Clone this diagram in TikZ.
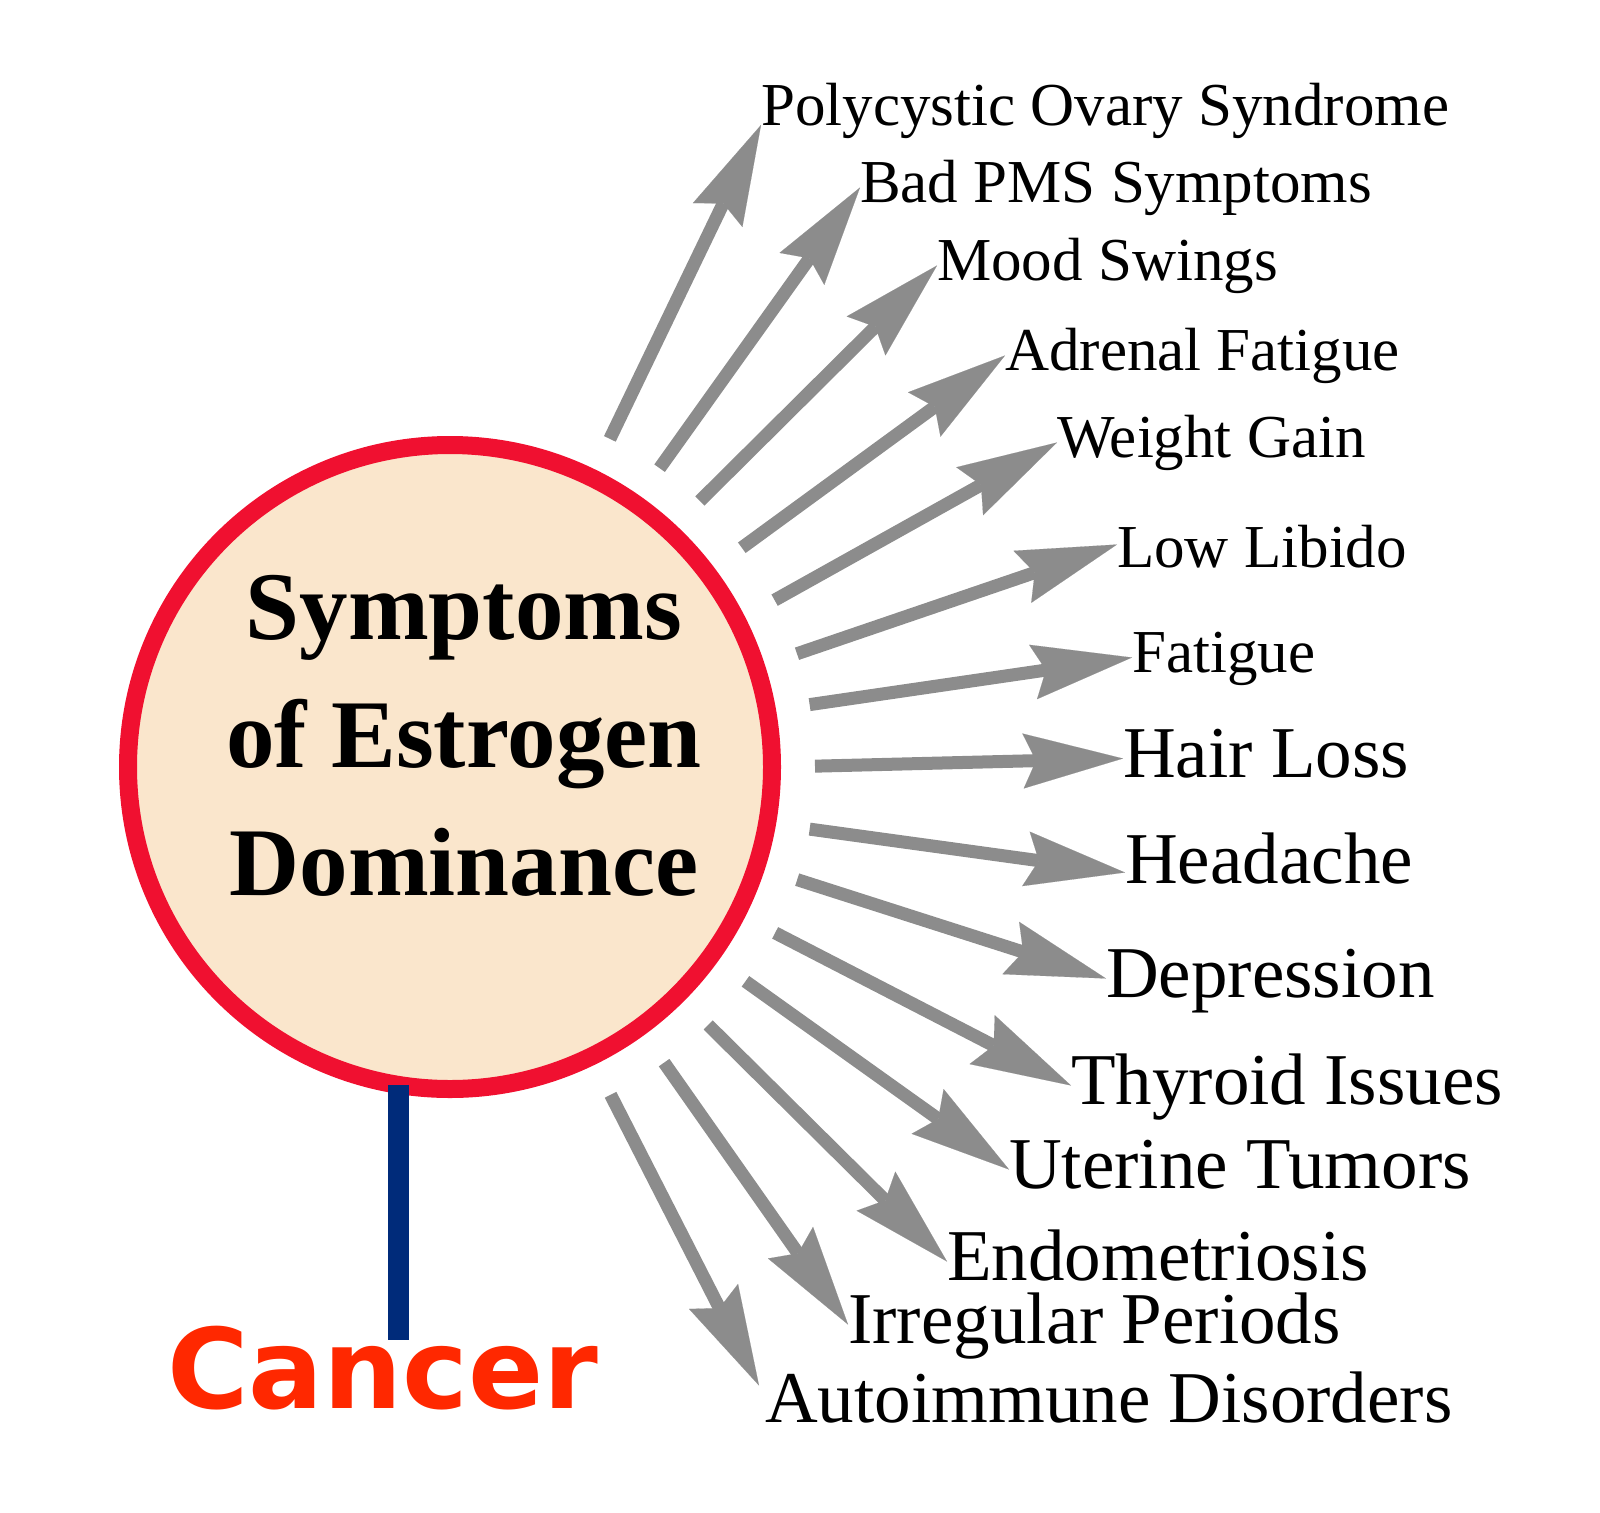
\documentclass[tikz,border=0pt]{standalone}
\usepackage{fontspec}
\setmainfont{Liberation Serif}
\newfontfamily\cancerfont{DejaVu Sans}
\usetikzlibrary{arrows.meta}
\definecolor{sedfill}{HTML}{FAE6CC}
\definecolor{sedred}{HTML}{F01030}
\definecolor{sedgray}{HTML}{8C8C8C}
\definecolor{sednavy}{HTML}{002B7A}
\definecolor{cancerred}{HTML}{FF2800}

\begin{document}
\begin{tikzpicture}[x=1pt, y=-1pt,
  sedring/.style={circle, draw=sedred, fill=sedfill, line width=18pt, minimum size=644pt, inner sep=0pt},
  sympsmall/.style={anchor=base west, inner sep=0pt, text height=42pt, text depth=13pt, font=\fontsize{61}{72}\selectfont},
  symplarge/.style={anchor=base west, inner sep=0pt, text height=47pt, text depth=10pt, font=\fontsize{73}{88}\selectfont},
  symarrow/.style={color=sedgray, line width=13pt, shorten <=34pt, -{Stealth[length=100pt, width=55pt, inset=13pt, line width=0.1pt]}},
  cancerbar/.style={color=sednavy, line width=21pt, shorten <=-9pt, shorten >=-13pt}]
\useasboundingbox (0,0) rectangle (1600,1512);
% circle
\node[sedring] (sed) at (450,767) {};
\node[align=center, inner sep=0pt, font=\bfseries\fontsize{97}{128}\selectfont] (title) at (464,736) {Symptoms\\of Estrogen\\Dominance};
% cancer
\node[anchor=base west, inner sep=0pt, text height=81pt, text=cancerred, font=\cancerfont\bfseries\fontsize{111}{130}\selectfont] (cancer) at (167,1408) {Cancer};
\draw[cancerbar] (sed.261) -- (sed.261 |- cancer.north);
%Text
\node[sympsmall] (pcos) at (761,125) {Polycystic Ovary Syndrome};
\node[sympsmall] (pms) at (860,202) {Bad PMS Symptoms};
\node[sympsmall] (mood) at (937,280) {Mood Swings};
\node[sympsmall] (adrenal) at (1005,370) {Adrenal Fatigue};
\node[sympsmall] (weight) at (1057,457) {Weight Gain};
\node[sympsmall] (libido) at (1117,567) {Low Libido};
\node[sympsmall] (fatigue) at (1132,672) {Fatigue};
\node[symplarge] (hair) at (1123,777) {Hair Loss};
\node[symplarge] (headache) at (1125,883) {Headache};
\node[symplarge] (depression) at (1106,997) {Depression};
\node[symplarge] (thyroid) at (1071,1104) {Thyroid Issues};
\node[symplarge] (uterine) at (1009,1188) {Uterine Tumors};
\node[symplarge] (endo) at (947,1280) {Endometriosis};
\node[symplarge] (periods) at (848,1343) {Irregular Periods};
\node[symplarge] (autoimmune) at (765,1422) {Autoimmune Disorders};
% arrows
\draw[symarrow] (sed.64) -- (pcos.base west);
\draw[symarrow] (sed.55) -- (pms.west);
\draw[symarrow] (sed.47) -- (mood.west);
\draw[symarrow] (sed.37) -- (adrenal.west);
\draw[symarrow] (sed.27) -- (weight.west);
\draw[symarrow] (sed.18) -- ([yshift=8pt]libido.west);
\draw[symarrow] (sed.10) -- (fatigue.west);
\draw[symarrow] (sed.0) -- (hair.west);
\draw[symarrow] (sed.-10) -- ([yshift=-8pt]headache.west);
\draw[symarrow] (sed.-18) -- (depression.west);
\draw[symarrow] (sed.-27) -- (thyroid.west);
\draw[symarrow] (sed.-36) -- (uterine.west);
\draw[symarrow] (sed.-45) -- (endo.west);
\draw[symarrow] (sed.-54) -- (periods.west);
\draw[symarrow] (sed.-64) -- ([xshift=-6pt, yshift=18pt]autoimmune.west);
\end{tikzpicture}
\end{document}
